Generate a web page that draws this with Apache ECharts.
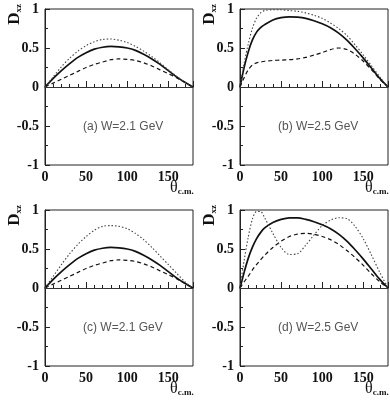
<!DOCTYPE html>
<html>
<head>
<meta charset="utf-8">
<script src="https://cdn.jsdelivr.net/npm/echarts@6/dist/echarts.min.js"></script>
<style>
  html, body { margin: 0; padding: 0; background: #fff; }
  #chart { width: 390px; height: 405px; }
</style>
</head>
<body>
<div id="chart"></div>
<script>
// theta grid (degrees) used by panels a/c and b/d
var thetaA = [0,10,20,30,40,50,60,70,80,90,100,110,120,130,140,150,160,170,180];
var thetaB = [0,5,10,15,20,25,30,40,50,60,70,80,90,100,110,120,130,140,150,160,170,180];

// panel (a) W=2.1 GeV
var aSolid = [0,0.11,0.21,0.30,0.38,0.44,0.485,0.51,0.52,0.515,0.50,0.47,0.42,0.36,0.29,0.21,0.13,0.06,0];
var aDot   = [0,0.13,0.26,0.37,0.46,0.53,0.58,0.61,0.615,0.60,0.57,0.52,0.46,0.39,0.31,0.22,0.14,0.06,0];
var aDash  = [0,0.05,0.10,0.15,0.20,0.25,0.29,0.32,0.35,0.36,0.355,0.34,0.31,0.27,0.22,0.17,0.12,0.06,0];

// panel (b) W=2.5 GeV
var bSolid = [0,0.25,0.45,0.60,0.70,0.76,0.80,0.86,0.89,0.90,0.895,0.88,0.85,0.81,0.76,0.69,0.60,0.49,0.37,0.24,0.11,0];
var bDot   = [0,0.30,0.55,0.75,0.88,0.95,0.98,0.99,0.99,0.98,0.97,0.95,0.92,0.88,0.82,0.75,0.66,0.54,0.41,0.27,0.13,0];
var bDash  = [0,0.12,0.22,0.28,0.31,0.32,0.33,0.34,0.345,0.35,0.36,0.38,0.41,0.44,0.48,0.50,0.48,0.42,0.33,0.22,0.10,0];

// panel (c) W=2.1 GeV
var cSolid = [0,0.11,0.21,0.30,0.38,0.44,0.485,0.51,0.52,0.515,0.50,0.47,0.42,0.36,0.29,0.21,0.13,0.06,0];
var cDot   = [0,0.15,0.30,0.44,0.56,0.66,0.74,0.79,0.80,0.79,0.76,0.70,0.62,0.52,0.41,0.30,0.19,0.08,0];
var cDash  = [0,0.05,0.10,0.15,0.20,0.25,0.29,0.32,0.35,0.36,0.355,0.34,0.31,0.27,0.22,0.17,0.12,0.06,0];

// panel (d) W=2.5 GeV
var dSolid = [0,0.20,0.38,0.52,0.63,0.71,0.77,0.84,0.88,0.90,0.90,0.88,0.85,0.81,0.76,0.69,0.60,0.49,0.37,0.24,0.11,0];
var dDot   = [0,0.35,0.65,0.88,0.98,0.98,0.90,0.70,0.52,0.43,0.44,0.55,0.68,0.80,0.87,0.90,0.89,0.79,0.63,0.42,0.20,0];
var dDash  = [0,0.08,0.15,0.23,0.30,0.36,0.42,0.52,0.60,0.66,0.69,0.70,0.69,0.66,0.62,0.56,0.48,0.39,0.29,0.18,0.08,0];

var yTickLabels = {'1': '1', '0.5': '0.5', '0': '0', '-0.5': '-0.5', '-1': '-1'};
var panelLabels = ['(a) W=2.1 GeV', '(b) W=2.5 GeV', '(c) W=2.1 GeV', '(d) W=2.5 GeV'];

var panels = [
  {theta: thetaA, solid: aSolid, dot: aDot, dash: aDash, left: 45, top: 9},
  {theta: thetaB, solid: bSolid, dot: bDot, dash: bDash, left: 240, top: 9},
  {theta: thetaA, solid: cSolid, dot: cDot, dash: cDash, left: 45, top: 210},
  {theta: thetaB, solid: dSolid, dot: dDot, dash: dDash, left: 240, top: 210}
];

var W = 148, H = 156;
var serif = '"Liberation Serif", "DejaVu Serif", serif';

function pairs(xs, ys) {
  return xs.map(function (x, i) { return [x, ys[i]]; });
}

var grids = [], xAxes = [], yAxes = [], series = [], graphics = [];

panels.forEach(function (p, i) {
  grids.push({
    left: p.left, top: p.top, width: W, height: H,
    show: true, borderColor: '#222', borderWidth: 1, backgroundColor: 'transparent'
  });
  xAxes.push({
    gridIndex: i, type: 'value', min: 0, max: 180, interval: 50,
    axisLine: {show: true, lineStyle: {color: '#222', width: 1}},
    axisTick: {show: true, inside: true, length: 6, lineStyle: {color: '#222'}},
    minorTick: {show: true, splitNumber: 5, length: 3, lineStyle: {color: '#222'}},
    splitLine: {show: false},
    axisLabel: {
      showMaxLabel: false, color: '#111', fontFamily: serif, fontWeight: 'bold',
      fontSize: 14, margin: 5
    }
  });
  yAxes.push({
    gridIndex: i, type: 'value', min: -1, max: 1, interval: 0.5,
    axisLine: {show: true, lineStyle: {color: '#222', width: 1}},
    axisTick: {show: true, inside: true, length: 5, lineStyle: {color: '#222'}},
    minorTick: {show: true, splitNumber: 2, length: 3, lineStyle: {color: '#222'}},
    splitLine: {show: false},
    axisLabel: {
      color: '#111', fontFamily: serif, fontWeight: 'bold', fontSize: 14, margin: 6,
      formatter: function (v) { return yTickLabels[String(v)] || ''; }
    }
  });

  series.push({
    type: 'line', xAxisIndex: i, yAxisIndex: i, smooth: 0.3, symbol: 'none',
    data: pairs(p.theta, p.solid),
    lineStyle: {color: '#111', width: 1.7, type: 'solid'},
    markLine: {
      silent: true, symbol: 'none', label: {show: false},
      lineStyle: {color: '#333', width: 1, type: 'solid'},
      data: [{yAxis: 0}]
    }
  });
  series.push({
    type: 'line', xAxisIndex: i, yAxisIndex: i, smooth: 0.3, symbol: 'none',
    data: pairs(p.theta, p.dash),
    lineStyle: {color: '#111', width: 1.2, type: [4, 3]}
  });
  series.push({
    type: 'line', xAxisIndex: i, yAxisIndex: i, smooth: 0.3, symbol: 'none',
    data: pairs(p.theta, p.dot),
    lineStyle: {color: '#444', width: 1.1, type: [1.5, 2]}
  });

  // D_xz label, rotated
  graphics.push({
    type: 'text', left: p.left - 39, top: p.top - 5, rotation: Math.PI / 2,
    style: {
      text: '{d|D}{s|xz}',
      rich: {
        d: {fontFamily: serif, fontWeight: 'bold', fontSize: 17, fill: '#111'},
        s: {fontFamily: serif, fontWeight: 'bold', fontSize: 9, fill: '#111', padding: [8, 0, 0, 0]}
      }
    }
  });
  // theta_c.m. label
  graphics.push({
    type: 'text', left: p.left + W - 23, top: p.top + H + 15,
    style: {
      text: '{t|θ}{s|c.m.}',
      rich: {
        t: {fontFamily: serif, fontSize: 16, fill: '#111'},
        s: {fontFamily: serif, fontWeight: 'bold', fontSize: 9, fill: '#111', padding: [8, 0, 0, 0]}
      }
    }
  });
  // panel annotation
  graphics.push({
    type: 'text', left: p.left + 38, top: p.top + 112,
    style: {
      text: panelLabels[i],
      fontFamily: '"Liberation Sans", sans-serif', fontSize: 12, fill: '#555'
    }
  });
});

var myChart = echarts.init(document.getElementById('chart'));
myChart.setOption({
  animation: false,
  backgroundColor: '#fff',
  grid: grids,
  xAxis: xAxes,
  yAxis: yAxes,
  series: series,
  graphic: graphics
});
</script>
</body>
</html>
